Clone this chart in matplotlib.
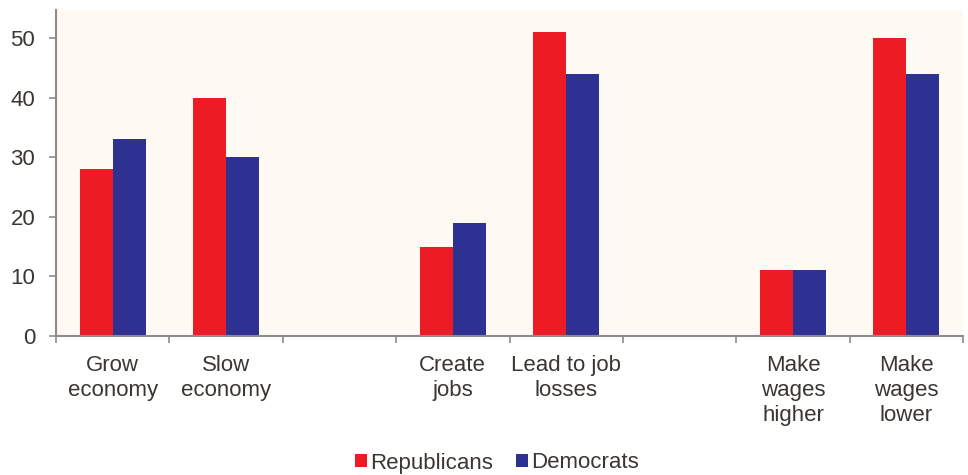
import matplotlib
matplotlib.use("Agg")
import matplotlib.pyplot as plt
import numpy as np

categories = ["Grow\neconomy", "Slow\neconomy", "", "Create\njobs", "Lead to job\nlosses", "",
              "Make\nwages\nhigher", "Make\nwages\nlower"]
republicans = [28, 40, np.nan, 15, 51, np.nan, 11, 50]
democrats = [33, 30, np.nan, 19, 44, np.nan, 11, 44]
yticks = [0, 10, 20, 30, 40, 50]

plt.rcParams['font.family'] = ['Liberation Sans', 'DejaVu Sans']
txt = '#3a3632'
axc = '#8c8c8c'

fig = plt.figure(figsize=(9.68, 4.75), dpi=100)
ax = fig.add_axes([56/968, 1-336/475, (963-56)/968, (336-10)/475])
ax.set_facecolor('#fff9f3')

x = np.arange(len(categories))
w = 0.29
ax.bar(x - w/2, republicans, w, color='#ed1c24', label='Republicans', edgecolor='none')
ax.bar(x + w/2, democrats, w, color='#2e3192', label='Democrats', edgecolor='none')

ax.set_xlim(-0.5, len(categories) - 0.5)
ax.set_ylim(0, 54.7)
ax.set_yticks(yticks)
ax.set_yticklabels([str(v) for v in yticks], fontsize=16, color=txt)
ax.set_xticks(np.arange(len(categories) + 1) - 0.5)
ax.set_xticklabels([])
ax.set_xticks(x, minor=True)
ax.set_xticklabels(categories, minor=True, fontsize=16, color=txt, linespacing=1.25)
ax.tick_params(axis='x', which='minor', length=0, pad=13.5)
ax.tick_params(axis='x', which='major', length=5, color=axc, width=1.2)
ax.tick_params(axis='y', length=5, color=axc, width=1.2, pad=10)
for s in ['top', 'right']:
    ax.spines[s].set_visible(False)
for s in ['left', 'bottom']:
    ax.spines[s].set_color(axc)
    ax.spines[s].set_linewidth(1.5)

leg = fig.legend(loc='center', bbox_to_anchor=(497/968, 1-463/475), ncol=2, frameon=False,
                 fontsize=16, handlelength=0.55, handleheight=0.55, handletextpad=0.15,
                 columnspacing=1.0, labelcolor=txt)

fig.savefig('out.png', dpi=100)
